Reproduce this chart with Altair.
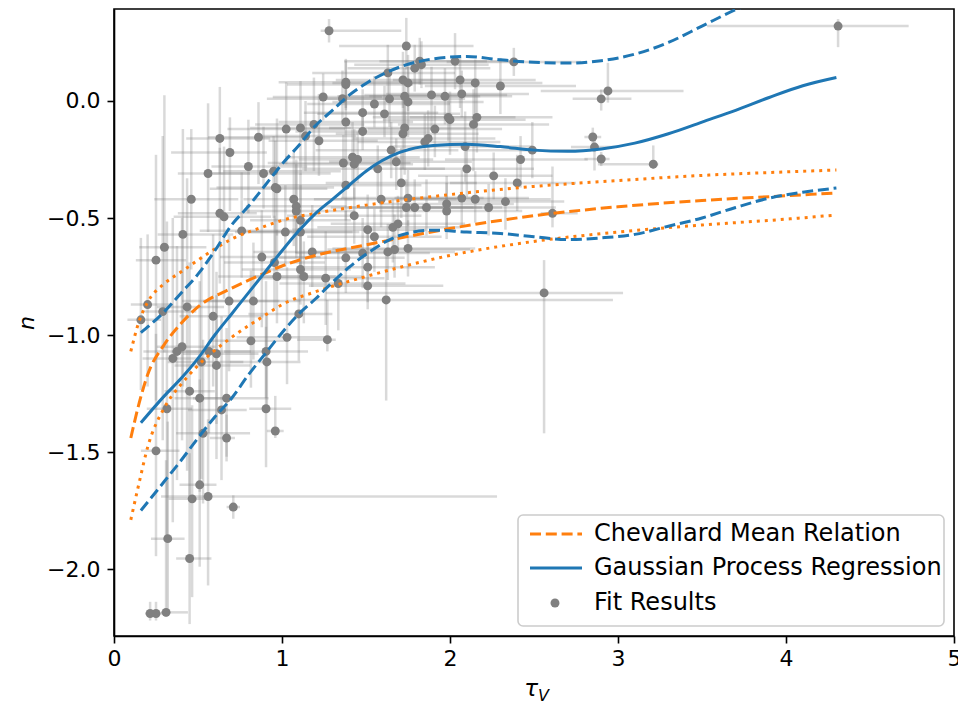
import altair as alt
import pandas as pd

# ---- fit results: optical depth tau_V and slope n, with asymmetric errors ----
tau_v = [0.16, 0.20, 0.29, 0.25, 0.30, 0.41, 0.435, 0.46, 0.56, 0.59,
         0.63, 0.63, 0.655, 0.69, 0.685, 0.76, 0.80, 0.83, 0.86, 0.88,
         0.89, 0.95, 0.96, 0.97, 0.955, 0.97, 0.405, 0.375, 0.35, 0.565,
         0.61, 0.61, 0.52, 0.905, 0.91, 0.815, 0.45, 0.51, 0.67, 0.64,
         0.315, 0.905, 0.53, 0.67, 0.96, 0.25, 0.51, 0.465, 0.56, 0.71,
         0.32, 0.45, 0.215, 0.25, 0.31,
         1.025, 1.02, 1.03, 1.07, 1.085, 1.085, 1.11, 1.11, 1.11, 1.10,
         1.14, 1.19, 1.22, 1.245, 1.28, 1.11, 1.13, 1.18, 1.26, 1.335,
         1.38, 1.27, 1.36, 1.38, 1.38, 1.38, 1.365, 1.38, 1.42, 1.45,
         1.43, 1.43, 1.48, 1.48, 1.48, 1.51, 1.55, 1.51, 1.51,
         1.55, 1.57, 1.59, 1.61, 1.62, 1.63, 1.64, 1.65, 1.68, 1.66,
         1.69, 1.63, 1.67, 1.71, 1.72, 1.75, 1.73, 1.75, 1.73, 1.72,
         1.74, 1.75, 1.74, 1.79, 1.75, 1.79, 1.82, 1.83, 1.85, 1.87,
         1.86, 1.89, 1.91, 1.97, 1.98, 1.98, 1.99, 2.00,
         2.03, 2.06, 2.07, 2.07, 2.09, 2.10, 2.14, 2.16, 2.15, 2.15,
         2.23, 2.26, 2.30, 2.33, 2.38, 2.40, 2.42, 2.49, 2.56, 2.61,
         2.85, 2.86, 2.90, 2.90, 2.94, 3.21, 4.31]
n_fit = [-0.935, -0.87, -0.90, -0.68, -0.625, -0.57, -0.88, -0.42, -0.31, -0.92,
         -0.16, -0.48, -0.495, -0.22, -0.855, -0.555, -0.28, -0.855, -0.155, -0.667,
         -0.31, -0.30, -0.37, -0.375, -0.69, -0.75, -1.05, -1.07, -1.10, -1.07,
         -1.08, -1.13, -1.115, -1.07, -1.115, -1.025, -1.24, -1.27, -1.27, -1.32,
         -1.315, -1.315, -1.42, -1.44, -1.41, -1.495, -1.64, -1.70, -1.69, -1.735,
         -1.87, -1.955, -2.19, -2.19, -2.185,
         -0.12, -0.56, -1.01, -0.42, -0.45, -0.47, -0.51, -0.115, -0.56, -0.91,
         -0.15, -0.10, -0.17, 0.017, 0.30, -0.72, -0.75, -0.645, -0.757, -0.78,
         -0.67, -1.02, 0.01, 0.08, 0.07, -0.09, -0.265, -0.36, -0.24, -0.25,
         -0.27, -0.49, -0.05, -0.13, -0.65, -0.55, -0.58, -0.71, -0.79,
         -0.013, -0.29, -0.42, -0.055, -0.85, 0.12, 0.009, -0.21, -0.26, -0.54,
         -0.525, -0.645, -0.635, -0.35, 0.09, 0.077, 0.02, -0.004, -0.115, -0.14,
         0.235, -0.415, -0.455, -0.455, -0.63, 0.14, 0.17, 0.155, -0.175, -0.16,
         -0.455, 0.026, -0.12, 0.02, -0.44, -0.47, -0.07, -0.08,
         0.17, 0.09, 0.03, -0.415, -0.195, -0.29, -0.10, -0.07, 0.077, -0.42,
         -0.455, -0.32, 0.064, -0.43, 0.167, -0.35, -0.25, -0.21, -0.82, -0.48,
         -0.154, -0.197, -0.248, 0.009, 0.043, -0.27, 0.32]
tau_err_lo = [0.08, 0.10, 0.12, 0.12, 0.15, 0.15, 0.18, 0.22, 0.18, 0.20,
              0.20, 0.25, 0.30, 0.35, 0.28, 0.25, 0.22, 0.30, 0.30, 0.25,
              0.30, 0.30, 0.35, 0.40, 0.30, 0.35, 0.15, 0.20, 0.18, 0.22,
              0.20, 0.25, 0.20, 0.25, 0.22, 0.25, 0.15, 0.15, 0.20, 0.20,
              0.12, 0.10, 0.16, 0.10, 0.05, 0.09, 0.12, 0.14, 0.28, 0.04,
              0.10, 0.08, 0.03, 0.03, 0.03,
              0.35, 0.30, 0.30, 0.30, 0.30, 0.30, 0.30, 0.30, 0.30, 0.30,
              0.30, 0.35, 0.30, 0.30, 0.05, 0.35, 0.30, 0.35, 0.40, 0.35,
              0.40, 0.18, 0.45, 0.40, 0.35, 0.40, 0.45, 0.40, 0.40, 0.35,
              0.45, 0.40, 0.35, 0.40, 0.40, 0.45, 0.40, 0.40, 0.35,
              0.40, 0.45, 0.40, 0.40, 0.55, 0.45, 0.40, 0.45, 0.40, 0.45,
              0.40, 0.45, 0.40, 0.45, 0.40, 0.45, 0.40, 0.45, 0.45, 0.40,
              0.40, 0.40, 0.45, 0.40, 0.45, 0.40, 0.45, 0.40, 0.40, 0.45,
              0.40, 0.40, 0.40, 0.45, 0.40, 0.40, 0.45, 0.40,
              0.45, 0.40, 0.45, 0.40, 0.45, 0.40, 0.45, 0.40, 0.40, 0.40,
              0.40, 0.45, 0.45, 0.40, 0.40, 0.40, 0.45, 0.40, 1.30, 0.07,
              0.05, 0.14, 0.10, 0.17, 0.40, 0.33, 0.78]
tau_err_hi = [0.12, 0.15, 0.20, 0.18, 0.25, 0.30, 0.22, 0.28, 0.25, 0.30,
              0.30, 0.22, 0.28, 0.22, 0.30, 0.30, 0.35, 0.28, 0.30, 0.35,
              0.40, 0.40, 0.35, 0.30, 0.30, 0.35, 0.20, 0.15, 0.22, 0.25,
              0.25, 0.20, 0.25, 0.25, 0.20, 0.22, 0.15, 0.20, 0.25, 0.15,
              0.15, 0.15, 0.28, 0.05, 0.05, 0.14, 0.10, 0.10, 1.72, 0.04,
              0.10, 0.13, 0.03, 0.05, 0.13,
              0.35, 0.40, 0.25, 0.35, 0.30, 0.35, 0.30, 0.30, 0.35, 0.20,
              0.30, 0.30, 0.35, 0.35, 0.43, 0.30, 0.35, 0.30, 0.35, 0.40,
              0.35, 0.05, 0.40, 0.45, 0.40, 0.40, 0.40, 0.45, 0.40, 0.45,
              0.35, 0.40, 0.45, 0.40, 0.40, 0.35, 0.40, 0.40, 0.45,
              0.45, 0.40, 0.45, 0.45, 1.35, 0.40, 0.45, 0.40, 0.45, 0.40,
              0.40, 0.40, 0.45, 0.45, 0.45, 0.40, 0.45, 0.45, 0.40, 0.45,
              0.40, 0.45, 0.40, 0.40, 0.40, 0.45, 0.40, 0.40, 0.45, 0.40,
              0.45, 0.45, 0.40, 0.40, 0.40, 0.45, 0.40, 0.45,
              0.40, 0.45, 0.40, 0.40, 0.40, 0.40, 0.45, 0.45, 0.40, 0.45,
              0.40, 0.35, 0.45, 0.35, 0.40, 0.35, 0.40, 0.35, 0.47, 0.15,
              0.05, 0.12, 0.05, 0.18, 0.45, 0.03, 0.42]
n_err_lo = [0.30, 0.35, 0.55, 0.60, 0.45, 0.65, 0.70, 0.30, 0.25, 0.30,
            0.15, 0.30, 0.35, 0.25, 0.30, 0.20, 0.20, 0.25, 0.20, 0.30,
            0.15, 0.20, 0.30, 0.20, 0.20, 0.20, 0.40, 0.55, 0.70, 0.35,
            0.30, 0.40, 0.50, 0.20, 0.20, 0.20, 0.45, 0.40, 0.25, 0.30,
            0.55, 0.25, 0.30, 0.10, 0.03, 0.45, 0.35, 0.42, 0.38, 0.05,
            0.30, 0.28, 0.03, 0.03, 0.02,
            0.15, 0.15, 0.20, 0.20, 0.20, 0.20, 0.20, 0.20, 0.15, 0.20,
            0.15, 0.20, 0.15, 0.10, 0.05, 0.15, 0.20, 0.15, 0.20, 0.20,
            0.15, 0.05, 0.10, 0.12, 0.10, 0.12, 0.15, 0.15, 0.12, 0.10,
            0.15, 0.12, 0.10, 0.08, 0.15, 0.12, 0.15, 0.15, 0.10,
            0.10, 0.12, 0.12, 0.10, 0.43, 0.10, 0.12, 0.12, 0.12, 0.15,
            0.12, 0.12, 0.12, 0.15, 0.12, 0.12, 0.15, 0.15, 0.20, 0.15,
            0.10, 0.12, 0.12, 0.12, 0.12, 0.10, 0.10, 0.10, 0.12, 0.12,
            0.12, 0.15, 0.12, 0.12, 0.10, 0.12, 0.10, 0.15,
            0.12, 0.12, 0.10, 0.12, 0.15, 0.12, 0.20, 0.15, 0.15, 0.10,
            0.12, 0.10, 0.12, 0.12, 0.06, 0.12, 0.12, 0.12, 0.60, 0.06,
            0.03, 0.10, 0.03, 0.05, 0.05, 0.02, 0.09]
n_err_hi = [0.35, 0.30, 0.75, 0.45, 0.65, 0.45, 0.55, 0.30, 0.30, 0.35,
            0.22, 0.28, 0.30, 0.15, 0.28, 0.25, 0.20, 0.25, 0.15, 0.20,
            0.20, 0.15, 0.20, 0.30, 0.20, 0.20, 0.55, 0.45, 0.60, 0.40,
            0.35, 0.30, 0.45, 0.30, 0.20, 0.30, 0.55, 0.50, 0.30, 0.40,
            0.80, 0.35, 0.40, 0.10, 0.15, 0.50, 0.45, 0.40, 0.33, 0.05,
            0.50, 0.45, 0.05, 0.05, 0.65,
            0.20, 0.20, 0.30, 0.20, 0.20, 0.20, 0.20, 0.20, 0.20, 0.20,
            0.15, 0.20, 0.20, 0.10, 0.05, 0.15, 0.15, 0.20, 0.20, 0.15,
            0.20, 0.17, 0.12, 0.10, 0.10, 0.15, 0.12, 0.15, 0.15, 0.12,
            0.15, 0.12, 0.10, 0.10, 0.15, 0.15, 0.12, 0.15, 0.12,
            0.12, 0.10, 0.12, 0.12, 0.20, 0.12, 0.12, 0.12, 0.10, 0.12,
            0.12, 0.12, 0.15, 0.15, 0.12, 0.12, 0.12, 0.15, 0.15, 0.15,
            0.12, 0.12, 0.12, 0.12, 0.12, 0.10, 0.10, 0.10, 0.12, 0.12,
            0.12, 0.12, 0.10, 0.12, 0.12, 0.12, 0.10, 0.12,
            0.12, 0.10, 0.10, 0.12, 0.15, 0.10, 0.15, 0.15, 0.10, 0.12,
            0.10, 0.10, 0.12, 0.10, 0.06, 0.12, 0.10, 0.12, 0.14, 0.20,
            0.04, 0.05, 0.03, 0.04, 0.12, 0.08, 0.03]

# ---- Chevallard et al. mean relation with its scatter ----
chev_tau = [0.1, 0.15, 0.2, 0.3, 0.4, 0.5, 0.7, 0.9, 1.0, 1.2, 1.5, 2.0, 2.5, 3.0, 3.5, 4.0, 4.3]
chev_mean = [-1.44, -1.29, -1.17, -1.04, -0.95, -0.88, -0.80, -0.735, -0.705, -0.66,
             -0.615, -0.545, -0.49, -0.452, -0.425, -0.405, -0.393]
chev_upper = [-1.07, -0.94, -0.86, -0.78, -0.73, -0.68, -0.59, -0.535, -0.51, -0.48,
              -0.445, -0.40, -0.365, -0.34, -0.318, -0.303, -0.295]
chev_lower = [-1.79, -1.63, -1.48, -1.31, -1.21, -1.13, -1.01, -0.915, -0.87, -0.815,
              -0.75, -0.66, -0.60, -0.56, -0.53, -0.505, -0.487]

# ---- Gaussian process regression mean and 2-sigma envelope ----
gp_tau = [0.16, 0.3, 0.4, 0.5, 0.6, 0.7, 0.8, 0.9, 1.0, 1.1, 1.2, 1.3, 1.4, 1.5,
          1.7, 1.9, 2.1, 2.3, 2.5, 2.7, 2.9, 3.1, 3.3, 3.5, 3.7, 3.9, 4.1, 4.3]
gp_mean = [-1.375, -1.26, -1.185, -1.10, -1.00, -0.91, -0.82, -0.73, -0.64, -0.555,
           -0.48, -0.42, -0.36, -0.30, -0.22, -0.19, -0.185, -0.195, -0.21, -0.215,
           -0.205, -0.18, -0.14, -0.09, -0.04, 0.015, 0.065, 0.10]
gp_upper = [-0.99, -0.90, -0.82, -0.74, -0.64, -0.53, -0.45, -0.36, -0.27, -0.19,
            -0.105, -0.04, 0.025, 0.075, 0.145, 0.18, 0.19, 0.176, 0.165, 0.162,
            0.172, 0.20, 0.25, 0.32, 0.39, 0.445, 0.51, 0.57]
gp_lower = [-1.75, -1.625, -1.535, -1.44, -1.35, -1.27, -1.17, -1.08, -0.99, -0.91,
            -0.845, -0.775, -0.71, -0.655, -0.575, -0.552, -0.56, -0.566, -0.58, -0.592,
            -0.585, -0.57, -0.535, -0.50, -0.455, -0.415, -0.39, -0.372]

# axis ticks
x_ticks = [0, 1, 2, 3, 4, 5]
y_ticks = [-2.0, -1.5, -1.0, -0.5, 0.0]

BLUE = "#1f77b4"
ORANGE = "#ff7f0e"
GRAY = "#808080"
FONT = "DejaVu Sans"
DASH = [11, 4.8]
DOT = [3, 5]
DOT_SIZE = 80

fits = pd.DataFrame({"tau": tau_v, "n": n_fit})
fits["tau_lo"] = fits["tau"] - pd.Series(tau_err_lo)
fits["tau_hi"] = fits["tau"] + pd.Series(tau_err_hi)
fits["n_lo"] = fits["n"] - pd.Series(n_err_lo)
fits["n_hi"] = fits["n"] + pd.Series(n_err_hi)

chev = pd.DataFrame({"tau": chev_tau, "mean": chev_mean, "upper": chev_upper, "lower": chev_lower})
gp = pd.DataFrame({"tau": gp_tau, "mean": gp_mean, "upper": gp_upper, "lower": gp_lower})

xs = alt.Scale(domain=[0, 5], nice=False, zero=False)
ys = alt.Scale(domain=[-2.286, 0.393], nice=False, zero=False)

x_enc = alt.X("tau:Q", scale=xs,
              axis=alt.Axis(values=x_ticks, format="d", title="", labelPadding=5,
                            labelFlush=False))
y_enc = alt.Y("n:Q", scale=ys,
              axis=alt.Axis(values=y_ticks, format=".1f", title="n", titleFontStyle="italic",
                            titleFont=FONT, titleFontSize=22, titleFontWeight="normal",
                            titleColor="black", titlePadding=8, labelPadding=7,
                            labelFlush=False))

hbars = alt.Chart(fits).mark_rule(color=GRAY, opacity=0.3, strokeWidth=2.5, clip=True).encode(
    x=alt.X("tau_lo:Q", scale=xs), x2="tau_hi:Q", y=alt.Y("n:Q", scale=ys))
vbars = alt.Chart(fits).mark_rule(color=GRAY, opacity=0.3, strokeWidth=2.5, clip=True).encode(
    x=alt.X("tau:Q", scale=xs), y=alt.Y("n_lo:Q", scale=ys), y2="n_hi:Q")
dots = alt.Chart(fits).mark_circle(color=GRAY, opacity=1, size=DOT_SIZE, clip=True).encode(
    x=x_enc, y=y_enc)


def curve(df, col, color, dash=None):
    kw = dict(color=color, strokeWidth=3, interpolate="monotone", clip=True)
    if dash is not None:
        kw["strokeDash"] = dash
    return alt.Chart(df).mark_line(**kw).encode(
        x=alt.X("tau:Q", scale=xs), y=alt.Y(f"{col}:Q", scale=ys))


lines = [
    curve(chev, "upper", ORANGE, DOT),
    curve(chev, "lower", ORANGE, DOT),
    curve(chev, "mean", ORANGE, DASH),
    curve(gp, "upper", BLUE, DASH),
    curve(gp, "lower", BLUE, DASH),
    curve(gp, "mean", BLUE),
]

# legend drawn in the lower-right corner of the plot area
one = pd.DataFrame({"k": [0]})
legend_box = alt.Chart(one).mark_rect(fill="white", fillOpacity=0.8, stroke="#cccccc",
                                      strokeWidth=1.6, cornerRadius=5).encode(
    x=alt.value(404), x2=alt.value(830), y=alt.value(506), y2=alt.value(617))
leg_chev = alt.Chart(one).mark_rule(color=ORANGE, strokeWidth=3, strokeDash=DASH).encode(
    x=alt.value(416), x2=alt.value(468), y=alt.value(525))
leg_gp = alt.Chart(one).mark_rule(color=BLUE, strokeWidth=3).encode(
    x=alt.value(416), x2=alt.value(468), y=alt.value(559))
leg_dot = alt.Chart(one).mark_circle(color=GRAY, opacity=1, size=DOT_SIZE).encode(
    x=alt.value(441), y=alt.value(594))


def leg_text(label, ypos):
    return alt.Chart(one).mark_text(align="left", baseline="middle", font=FONT,
                                    fontSize=24, color="black").encode(
        x=alt.value(480), y=alt.value(ypos), text=alt.value(label))


# x-axis title: tau with subscript V
tau_title = alt.Chart(one).mark_text(align="right", baseline="alphabetic", font=FONT,
                                     fontSize=23, fontStyle="italic", color="black").encode(
    x=alt.value(424), y=alt.value(687), text=alt.value("τ"))
v_sub = alt.Chart(one).mark_text(align="left", baseline="alphabetic", font=FONT,
                                 fontSize=16, fontStyle="italic", color="black").encode(
    x=alt.value(424), y=alt.value(692), text=alt.value("V"))

chart = alt.layer(
    hbars, vbars, dots, *lines,
    legend_box, leg_chev, leg_gp, leg_dot,
    leg_text("Chevallard Mean Relation", 525),
    leg_text("Gaussian Process Regression", 559),
    leg_text("Fit Results", 594),
    tau_title, v_sub,
).properties(
    width=840, height=627,
    autosize=alt.AutoSizeParams(type="none"),
    padding={"left": 114, "top": 9, "right": 4, "bottom": 70},
).configure_view(
    stroke="black", strokeWidth=1.6
).configure_axis(
    grid=False, domainColor="black", domainWidth=1.6, tickColor="black", tickWidth=1.6,
    tickSize=7, labelFont=FONT, labelFontSize=22, labelColor="black",
)

chart.save("out.html", embed_options={"renderer": "svg", "actions": False})
